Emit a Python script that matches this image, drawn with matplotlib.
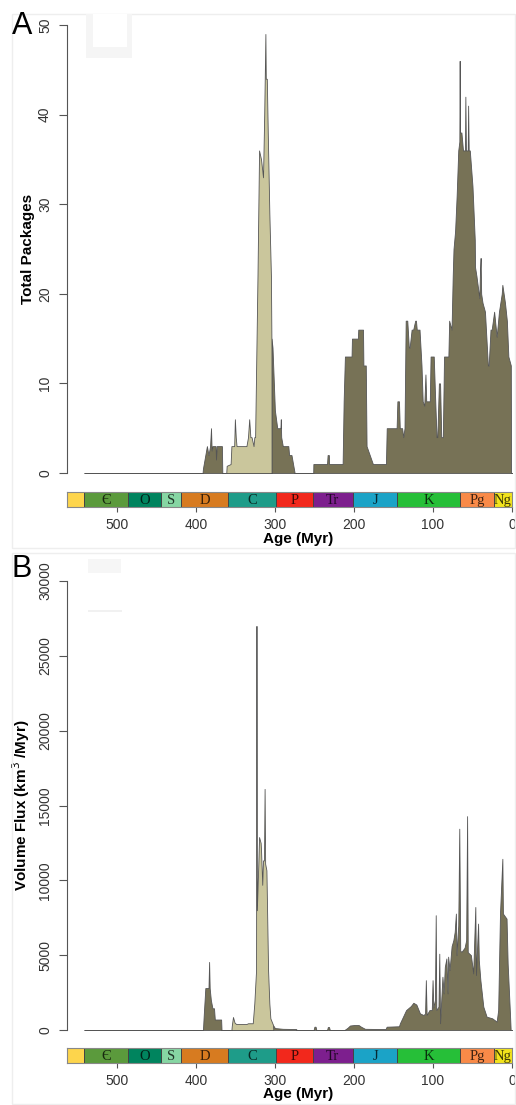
import numpy as np
import matplotlib.pyplot as plt
from matplotlib.patches import Rectangle

plt.rcParams['font.family'] = ['Liberation Sans', 'DejaVu Sans']

# (age Myr, total packages) - all packages
pkg_all = [(541, 0), (391.5, 0), (391, 0.5), (388, 2), (386, 3), (384, 2), (382, 3), (380.8, 5),
           (380, 2.5), (379, 3), (375, 3), (374.5, 1.5), (373.5, 3), (367, 3), (366.5, 0),
           (304.3, 0), (304.2, 15), (303, 14), (300, 7), (297, 5), (293, 5), (292.5, 6), (292, 4),
           (290, 3), (283, 3), (282, 2), (279, 2), (275, 0), (251.5, 0), (251.3, 1), (234, 1),
           (233.3, 2), (231.7, 2), (231.5, 1), (214.3, 1), (213, 8), (211.4, 13), (203, 13),
           (202.5, 15), (195, 15), (194.5, 16), (188.5, 16), (188, 12), (185, 12), (184, 3),
           (180, 2), (176, 1), (159.5, 1), (158.5, 5), (146, 5), (145, 8), (143, 8), (142, 5),
           (139, 5), (137.6, 4), (136, 5), (134.5, 17), (132.5, 17), (130.5, 14), (129.5, 14),
           (127, 16), (125, 16), (122.5, 17), (121.5, 17), (120.5, 16), (117, 16), (114.5, 12),
           (113, 8), (111, 7.5), (109.5, 11), (108.5, 8), (104, 8), (103, 13), (99, 13),
           (97.5, 9), (95.5, 4), (94.5, 4), (92.5, 10), (91, 10), (89.5, 4), (87.5, 4), (86, 13),
           (80.5, 13), (79.5, 17), (76.5, 16), (75, 22), (74, 25), (72, 27), (70, 31), (68, 36),
           (66.6, 37), (66.2, 46), (65.8, 38), (64, 38), (62, 36), (59.5, 36), (59, 42),
           (58.3, 36), (56, 36), (55.5, 41), (54.8, 36), (53.4, 36), (50, 32), (47.1, 26),
           (46.8, 23), (45, 22), (41.3, 19.5), (40.5, 22.6), (39.7, 24), (39, 20), (37.3, 19),
           (34.2, 18), (30.5, 12), (29.5, 12), (27.2, 16), (25.7, 16), (22.6, 18), (19.4, 15.2),
           (16.5, 18), (13, 20), (12.2, 21), (8.9, 19), (6.5, 17), (4.6, 13), (1.5, 12),
           (1.2, 0), (0, 0)]

# Carboniferous group (lighter fill)
pkg_carb = [(361.5, 0), (361, 0.8), (356, 1), (355, 3), (351.5, 3), (350.6, 6), (349.5, 4),
            (348.5, 3), (336, 3), (334, 4), (332.5, 6), (331, 4), (329.5, 4), (327, 3), (326, 4),
            (325, 4), (322, 22), (320, 36), (317.5, 35), (315, 33), (313.5, 40), (312, 49),
            (311.5, 44), (310.2, 44), (309, 38), (307, 29), (305, 22), (304.3, 14), (304.2, 0)]

# (age Myr, volume flux km3/Myr)
flux_all = [(541, 0), (391, 0), (390, 1000), (388, 2800), (384, 2800), (383.2, 4550),
            (382.5, 2800), (381, 2000), (379, 1450), (377, 1450), (376, 700), (368, 700),
            (367.5, 0), (303, 0), (302, 300), (300, 130), (290, 80), (280, 70), (273, 60),
            (272.5, 0), (251, 0), (250, 220), (248.5, 220), (247.5, 0), (234, 0), (233, 200),
            (231.5, 200), (230.5, 0), (212, 0), (208, 150), (205, 300), (200, 330), (194, 330),
            (191, 220), (186, 80), (160, 60), (158.6, 220), (143, 250), (141.8, 450),
            (134, 1330), (128, 1600), (124.8, 1820), (121, 1700), (116.5, 1110), (112, 1000),
            (110, 1100), (109, 3330), (108, 1000), (104.5, 1330), (101.5, 1330), (100.5, 3330),
            (99.5, 1500), (97.5, 2000), (96.5, 7670), (95.8, 1330), (93, 1560), (92, 5100),
            (91, 450), (90, 1500), (88, 3560), (86.5, 2440), (85, 4220), (83, 4780),
            (81.5, 2440), (80.8, 4900), (79, 4000), (76.4, 5600), (74.2, 6000), (72.5, 6560),
            (71, 7780), (70.2, 5000), (68, 7000), (66.7, 13450), (65.5, 5300), (63.9, 5220),
            (60, 5500), (58, 6000), (56.8, 14290), (56, 5200), (52, 5000), (49.1, 3780),
            (46.4, 8220), (45.6, 3670), (42.9, 7110), (42, 4670), (40, 3330), (36.3, 1560),
            (32.1, 890), (25, 780), (19.4, 560), (17.5, 1330), (15.2, 7780), (12.2, 11440),
            (11.5, 7780), (6.9, 7440), (5.5, 4440), (2.5, 1000), (1.7, 0), (0, 0)]

flux_carb = [(355, 0), (354.5, 300), (353, 870), (351, 490), (349, 400), (336, 400), (334, 450),
             (328, 450), (326, 1800), (323.8, 4000), (323.3, 27000), (322.8, 8000), (321, 11000),
             (320, 12890), (318, 12500), (317.5, 12000), (316, 9700), (315, 11330),
             (313.8, 11330), (313, 16110), (312.3, 11110), (310.7, 10670), (308.6, 4000),
             (307, 1780), (305.7, 780), (302.3, 333), (302, 0)]

# geological time scale
periods = ['', 'Є', 'O', 'S', 'D', 'C', 'P', 'Tr', 'J', 'K', 'Pg', 'Ng']
p_start = [563, 541, 485.4, 443.8, 419.2, 358.9, 298.9, 252.2, 201.3, 145, 66, 23]
p_end = [541, 485.4, 443.8, 419.2, 358.9, 298.9, 252.2, 201.3, 145, 66, 23, 0]
p_color = ['#fdd54c', '#5b9a3c', '#00845e', '#86d6a3', '#d77b20', '#1e9c89', '#f2281c',
           '#7d1f8e', '#1ba3c7', '#26bf38', '#f98a48', '#f2e31c']

W, H = 516, 1105
dark = '#777256'
light = '#cac69c'
edge = '#555555'


def box(l, t, r, b):
    return [l / W, 1 - b / H, (r - l) / W, (b - t) / H]


fig = plt.figure(figsize=(W / 100, H / 100), dpi=100)

# faint panel frames
for t, b in [(14, 548), (553, 1104)]:
    fig.patches.append(Rectangle((12 / W, 1 - b / H), 503 / W, (b - t) / H, transform=fig.transFigure,
                                 fill=False, ec='#eeeeee', lw=1))
# ghost of an erased legend
fig.patches.append(Rectangle((86 / W, 1 - 58 / H), 46 / W, 44 / H, transform=fig.transFigure,
                             fc='#f5f5f5', ec='none'))
fig.patches.append(Rectangle((93 / W, 1 - 47 / H), 34 / W, 33 / H, transform=fig.transFigure,
                             fc='white', ec='none'))
fig.patches.append(Rectangle((88 / W, 1 - 573 / H), 33 / W, 14 / H, transform=fig.transFigure,
                             fc='#f6f6f6', ec='none'))
fig.patches.append(Rectangle((88 / W, 1 - 612 / H), 34 / W, 2 / H, transform=fig.transFigure,
                             fc='#f1f1f1', ec='none'))


def panel(top, bottom, bar_t, bar_b, ymax, yticks, ylabel, lab_x, all_s, carb_s, letter, ly):
    ax = fig.add_axes(box(67, top, 512, bottom))
    a, v = np.array(all_s).T
    ax.fill_between(a, v, 0, fc=dark, ec=edge, lw=0.6, clip_on=False)
    a, v = np.array(carb_s).T
    ax.fill_between(a, v, 0, fc=light, ec=edge, lw=0.6, clip_on=False)
    ax.set_xlim(563, 0)
    ax.set_ylim(0, ymax)
    for s in ['top', 'right', 'bottom']:
        ax.spines[s].set_visible(False)
    ax.spines['left'].set_color('#555555')
    ax.spines['left'].set_bounds(0, ymax)
    ax.set_xticks([])
    ax.set_yticks(yticks)
    ax.tick_params(axis='y', length=5.8, width=0.8, color='#555555', pad=5, labelsize=10,
                   labelcolor='#333333', labelrotation=90)
    for lab in ax.get_yticklabels():
        lab.set_va('center')
    ax.set_ylabel(ylabel, fontsize=11, fontweight='bold')
    ax.yaxis.set_label_coords((lab_x - 67) / 445, 0.5)

    bar = fig.add_axes(box(67, bar_t, 512, bar_b))
    bar.set_xlim(563, 0)
    bar.set_ylim(0, 1)
    for name, s, e, c in zip(periods, p_start, p_end, p_color):
        bar.add_patch(Rectangle((e, 0), s - e, 1, fc=c, ec='#444444', lw=0.7))
        if name:
            dk = tuple(0.25 * x for x in plt.matplotlib.colors.to_rgb(c))
            bar.text((s + e) / 2, 0.45, name, ha='center', va='center', fontsize=10.5,
                     family='Liberation Serif', color=dk)
    for s in bar.spines.values():
        s.set_color('#888888')
        s.set_linewidth(0.8)
    bar.set_yticks([])
    bar.set_xticks([500, 400, 300, 200, 100, 0])
    bar.tick_params(axis='x', length=3.6, width=0.8, color='#555555', pad=4, labelsize=10,
                    labelcolor='#333333')
    bar.set_xlabel('Age (Myr)', fontsize=11, fontweight='bold', labelpad=0)
    bar.xaxis.set_label_coords(0.52, -1.6)
    fig.text(22 / W, 1 - ly / H, letter, fontsize=22, ha='center', va='center')


panel(25, 473, 491.5, 507, 50, [0, 10, 20, 30, 40, 50], 'Total Packages', 35,
      pkg_all, pkg_carb, 'A', 26)
panel(581, 1030, 1048, 1063, 30000, [0, 5000, 10000, 15000, 20000, 25000, 30000],
      r'Volume Flux (km$^3$ /Myr)', 32, flux_all, flux_carb, 'B', 569)

fig.savefig('out.png', dpi=100)
